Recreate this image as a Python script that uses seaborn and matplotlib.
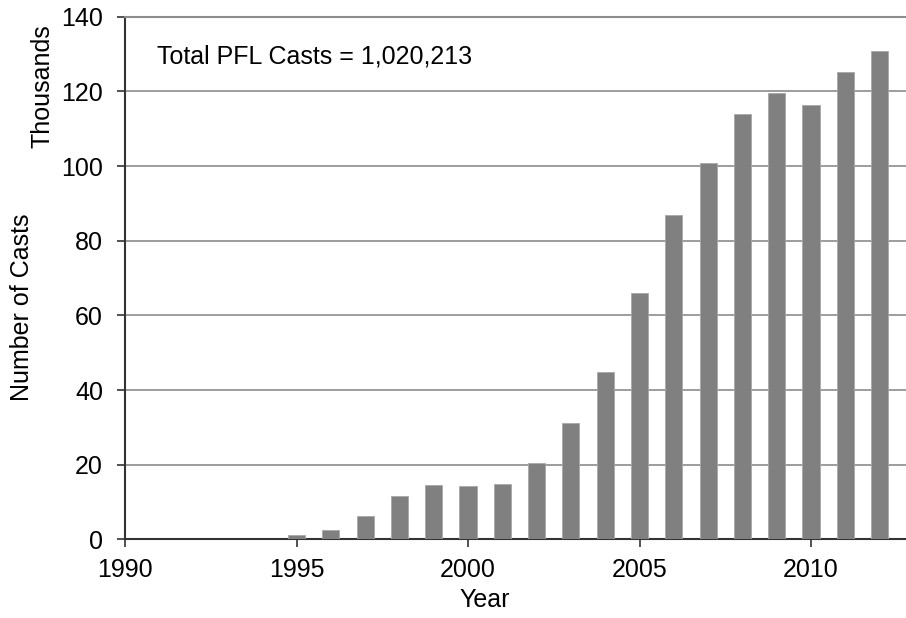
import matplotlib
matplotlib.use("Agg")
import matplotlib.pyplot as plt
import seaborn as sns

# PFL casts per year, in thousands
years = [1995, 1996, 1997, 1998, 1999, 2000, 2001, 2002, 2003, 2004,
         2005, 2006, 2007, 2008, 2009, 2010, 2011, 2012]
casts = [1.1, 2.5, 6.2, 11.6, 14.5, 14.2, 14.9, 20.5, 31.2, 44.8,
         66.1, 86.9, 100.8, 113.9, 119.5, 116.3, 125.3, 130.9]
x_ticks = [1990, 1995, 2000, 2005, 2010]
y_ticks = [0, 20, 40, 60, 80, 100, 120, 140]

sns.set_style("white")
plt.rcParams['font.family'] = ['Liberation Sans', 'DejaVu Sans']
plt.rcParams['text.color'] = 'black'
plt.rcParams['axes.labelcolor'] = 'black'

fig = plt.figure(figsize=(9.06, 6.18), dpi=100)
ax = fig.add_axes([0.138, 0.1273, 0.862, 0.8456])

sns.barplot(x=years, y=casts, native_scale=True, width=0.5, color='#808080',
            saturation=1, edgecolor='#a8a8a8', linewidth=0.6, ax=ax, zorder=3)

ax.set_xlim(1990, 2012.77)
ax.set_ylim(0, 140)
ax.set_xticks(x_ticks)
ax.set_yticks(y_ticks)
ax.yaxis.grid(True, color='#8c8c8c', linewidth=1.2, zorder=0)
ax.set_axisbelow(True)

for side in ['left', 'bottom']:
    ax.spines[side].set_color('#333333')
    ax.spines[side].set_linewidth(1.5)
ax.spines['top'].set_color('#8c8c8c')
ax.spines['top'].set_linewidth(1.5)
ax.spines['right'].set_visible(False)

ax.tick_params(axis='both', left=True, bottom=True, direction='out',
               length=5.8, width=1.2, color='#333333', labelsize=18,
               labelcolor='black')
ax.tick_params(axis='y', pad=10)
ax.tick_params(axis='x', pad=7.3)

ax.set_xlabel('Year', fontsize=18)
ax.xaxis.set_label_coords(0.46, -0.093)
ax.set_ylabel('Number of Casts', fontsize=18, va='center')
ax.yaxis.set_label_coords(-0.132, 0.444)

fig.text(42 / 906, 0.861, 'Thousands', rotation=90, fontsize=18,
         ha='center', va='center')
ax.text(1990.93, 127.5, 'Total PFL Casts = 1,020,213', fontsize=18,
        ha='left', va='baseline')

fig.savefig('out.png', dpi=100)
